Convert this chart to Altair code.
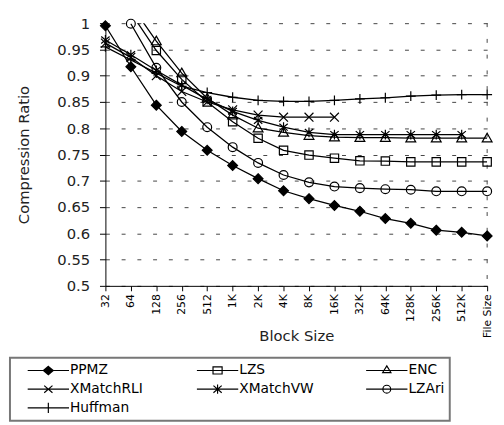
import altair as alt
import pandas as pd

blocks = ["32", "64", "128", "256", "512", "1K", "2K", "4K", "8K", "16K",
          "32K", "64K", "128K", "256K", "512K", "File Size"]
series_names = ["PPMZ", "LZS", "ENC", "XMatchRLI", "XMatchVW", "LZAri", "Huffman"]

ppmz = [0.995, 0.917, 0.844, 0.794, 0.758, 0.729, 0.704, 0.681, 0.666, 0.653,
        0.642, 0.628, 0.619, 0.606, 0.602, 0.595]
lzs = [None, 1.02, 0.948, 0.893, 0.850, 0.8125, 0.781, 0.758, 0.749, 0.743,
       0.738, 0.7375, 0.736, 0.736, 0.736, 0.736]
enc = [None, 1.035, 0.966, 0.905, 0.857, 0.825, 0.800, 0.792, 0.786, 0.783,
       0.782, 0.782, 0.781, 0.781, 0.781, 0.781]
xmatch_rli = [0.962, 0.935, 0.900, 0.870, 0.850, 0.835, 0.825, 0.821, 0.821, 0.821,
              None, None, None, None, None, None]
xmatch_vw = [0.968, 0.940, 0.910, 0.882, 0.855, 0.832, 0.815, 0.802, 0.792, 0.788,
             0.788, 0.788, 0.788, 0.788, 0.788, None]
lzari = [None, 0.999, 0.915, 0.850, 0.802, 0.764, 0.734, 0.711, 0.697, 0.689,
         0.686, 0.684, 0.683, 0.680, 0.680, 0.680]
huffman = [0.955, 0.930, 0.905, 0.880, 0.868, 0.859, 0.853, 0.851, 0.851, 0.853,
           0.856, 0.858, 0.861, 0.863, 0.864, 0.864]

y_ticks = [0.5, 0.55, 0.6, 0.65, 0.7, 0.75, 0.8, 0.85, 0.9, 0.95, 1.0]

all_series = [ppmz, lzs, enc, xmatch_rli, xmatch_vw, lzari, huffman]
rows = []
for name, vals in zip(series_names, all_series):
    for b, v in zip(blocks, vals):
        if v is not None:
            rows.append({"block": b, "series": name, "value": v})
df = pd.DataFrame(rows)

marker_paths = [
    "M0,-1L1,0L0,1L-1,0Z",
    "M-0.85,-0.85H0.85V0.85H-0.85Z",
    "M0,-1L1,0.75H-1Z",
    "M-0.9,-0.9L0.9,0.9M-0.9,0.9L0.9,-0.9",
    "M-0.85,-0.7L0.85,0.7M-0.85,0.7L0.85,-0.7M0,-1V1",
    "M0.9,0A0.9,0.9,0,1,1,-0.9,0A0.9,0.9,0,1,1,0.9,0Z",
    "M0,-1V1M-1,0H1",
]
legend_paths = [
    "M-1,0H1M0,-0.2L0.24,0L0,0.2L-0.24,0ZM0,-0.13L0.156,0L0,0.13L-0.156,0Z"
    "M0,-0.06L0.072,0L0,0.06L-0.072,0ZM-0.1,0H0.1",
    "M-1,0H-0.22M0.22,0H1M-0.22,-0.17H0.22V0.17H-0.22ZM-0.22,0H0.22",
    "M-1,0H1M0,-0.22L0.2,0.1H-0.2Z",
    "M-1,0H1M-0.2,-0.17L0.2,0.17M-0.2,0.17L0.2,-0.17",
    "M-1,0H1M-0.2,-0.17L0.2,0.17M-0.2,0.17L0.2,-0.17M0,-0.22V0.22",
    "M-1,0H1M0.19,0A0.19,0.19,0,1,1,-0.19,0A0.19,0.19,0,1,1,0.19,0Z",
    "M-1,0H1M0,-0.25V0.25",
]
fills = ["black", "transparent", "transparent", "transparent", "transparent",
         "transparent", "transparent"]

FONT = "DejaVu Sans"

x_enc = alt.X(
    "block:N", sort=blocks,
    scale=alt.Scale(type="point", padding=0, domain=blocks),
    axis=alt.Axis(labelAngle=270, labelFont=FONT, labelFontSize=11, labelColor="black",
                  tickSize=5, labelPadding=3, grid=False, domainColor="black",
                  tickColor="black", title="Block Size", titleFont=FONT,
                  titleFontSize=15, titleFontWeight="normal", titleColor="#222",
                  titleY=51, titleBaseline="middle"),
)
y_enc = alt.Y(
    "value:Q",
    scale=alt.Scale(domain=[0.5, 1.0], nice=False, zero=False),
    axis=alt.Axis(values=y_ticks, format=".2~f", labelFont=FONT, labelFontSize=15,
                  labelColor="#222", tickSize=6, labelPadding=10, grid=True,
                  gridDash=[4, 12], gridColor="#444", domainColor="black",
                  tickColor="black", title="Compression Ratio", titleFont=FONT,
                  titleFontSize=15, titleFontWeight="normal", titleColor="#222",
                  titleX=-75),
)

base = alt.Chart(df)

lines = base.mark_line(color="black", strokeWidth=1.3, clip=True).encode(
    x=x_enc, y=y_enc, detail="series:N"
)

points = base.transform_filter("datum.value <= 1").mark_point(
    filled=True, stroke="black", strokeWidth=1.2, size=100, opacity=1
).encode(
    x=x_enc, y=y_enc,
    shape=alt.Shape("series:N", scale=alt.Scale(domain=series_names, range=marker_paths), legend=None),
    fill=alt.Fill("series:N", scale=alt.Scale(domain=series_names, range=fills), legend=None),
)

leg = alt.Legend(
    title=None, orient="none", legendX=-97, legendY=340, columns=3,
    direction="horizontal",
    labelFont=FONT, labelFontSize=14, labelColor="black",
    symbolSize=1764, symbolStrokeWidth=1.2, symbolStrokeColor="black",
    symbolFillColor="transparent",
    clipHeight=16, padding=5, symbolOffset=12, labelOffset=0,
    rowPadding=3, columnPadding=40, gridAlign="all",
    strokeColor="#777",
)

legend_layer = base.transform_filter("false").mark_point(
    filled=False, color="black", stroke="black", strokeWidth=1.2, size=1764, opacity=1
).encode(
    x=x_enc, y=y_enc,
    shape=alt.Shape("series:N", scale=alt.Scale(domain=series_names, range=legend_paths), legend=leg),
)

file_rule = alt.Chart(pd.DataFrame({"block": [blocks[-1]]})).mark_rule(
    color="#444", strokeDash=[4, 12], strokeWidth=1
).encode(x=alt.X("block:N", sort=blocks, scale=alt.Scale(type="point", padding=0, domain=blocks)))

chart = alt.layer(file_rule, lines, points, legend_layer).resolve_scale(
    shape="independent", fill="independent"
).properties(
    width=388, height=267,
    autosize=alt.AutoSizeParams(type="none"),
    padding={"left": 99, "top": 12, "right": 9, "bottom": 138},
).configure_view(strokeWidth=0).configure_legend(strokeWidth=2)

chart.save("out.html", embed_options={"renderer": "svg", "actions": False})
